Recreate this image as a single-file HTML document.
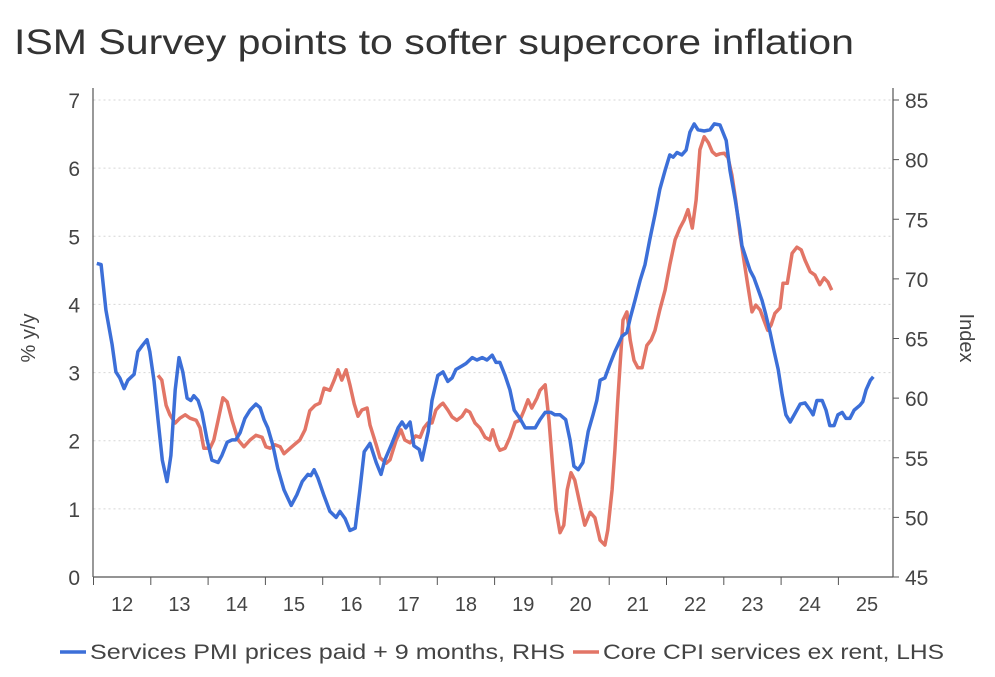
<!DOCTYPE html>
<html><head><meta charset="utf-8"><style>
body{margin:0;background:#fff;}
svg text{font-family:"Liberation Sans",sans-serif;}
</style></head><body>
<svg width="995" height="672" xmlns="http://www.w3.org/2000/svg" id="c">
<text x="14" y="54" font-size="35" fill="#333" textLength="840" lengthAdjust="spacingAndGlyphs">ISM Survey points to softer supercore inflation</text>
<text transform="translate(35,338) rotate(-90)" text-anchor="middle" font-size="20" fill="#444">% y/y</text>
<text transform="translate(960,338) rotate(90)" text-anchor="middle" font-size="20" fill="#444">Index</text>
<g id="grid"></g><g id="axes"></g><g id="series"></g>
<g>
<line x1="60" y1="652" x2="86" y2="652" stroke="#3c6fd8" stroke-width="3.5"/>
<text x="90" y="659" font-size="21" fill="#444" textLength="475" lengthAdjust="spacingAndGlyphs">Services PMI prices paid + 9 months, RHS</text>
<line x1="573" y1="652" x2="599" y2="652" stroke="#e27566" stroke-width="3.5"/>
<text x="603" y="659" font-size="21" fill="#444" textLength="341" lengthAdjust="spacingAndGlyphs">Core CPI services ex rent, LHS</text>
</g>
</svg>
<script>
const leftTicks=[0,1,2,3,4,5,6,7];
const rightTicks=[45,50,55,60,65,70,75,80,85];
const yearLabels=["12","13","14","15","16","17","18","19","20","21","22","23","24","25"];
// months since Jan 2012
const pmiMonths=[0.7,1.6,2.6,3.9,4.7,5.5,6.4,7.2,8.5,9.3,10.2,11.2,11.8,12.7,13.5,14.4,15.4,16.2,17.1,17.9,18.7,19.6,20.4,21.0,21.9,22.7,23.8,24.8,26.1,26.9,28.0,29.0,29.8,30.7,31.7,32.8,34.0,34.9,35.7,36.5,37.6,38.6,39.9,41.4,42.6,43.7,44.9,45.5,46.2,47.0,48.3,49.5,50.8,51.6,52.7,53.7,54.8,55.8,56.7,57.9,59.2,60.2,61.0,62.5,63.8,64.6,65.4,66.3,67.1,68.2,68.8,70.1,70.9,72.1,73.2,74.2,75.1,75.9,77.2,78.0,79.3,80.3,81.4,82.4,83.5,84.3,85.1,86.2,87.2,88.1,89.3,90.4,91.4,92.5,93.5,94.6,95.8,96.6,97.7,98.9,99.8,100.6,101.5,102.5,103.6,104.6,105.4,106.1,107.1,108.2,109.2,110.7,111.7,112.4,113.4,114.5,115.5,116.5,117.6,118.6,119.7,120.7,121.4,122.2,123.2,124.1,124.9,125.8,126.6,127.9,129.1,130.0,131.2,132.5,133.3,134.4,135.4,135.8,136.6,137.5,138.3,139.2,140.0,140.8,141.7,142.5,143.4,144.2,145.0,145.9,146.9,148.0,149.0,150.1,150.7,151.5,152.6,153.4,154.2,155.1,155.9,156.8,157.6,158.4,159.3,160.5,161.1,161.8,162.7,163.3];
const pmiValues=[71.3,71.2,67.4,64.5,62.2,61.7,60.8,61.5,62.0,63.9,64.4,64.9,63.9,61.4,58.2,54.8,53.0,55.2,60.7,63.4,62.2,60.0,59.8,60.2,59.8,58.8,56.5,54.8,54.6,55.2,56.3,56.5,56.5,57.1,58.3,59.0,59.5,59.2,58.2,57.5,56.0,54.1,52.3,51.0,51.9,53.0,53.6,53.5,54.0,53.3,51.8,50.5,50.0,50.5,49.9,48.9,49.1,52.3,55.5,56.2,54.6,53.6,54.8,56.2,57.5,58.0,57.5,58.0,56.0,55.7,54.8,57.2,59.8,61.9,62.2,61.4,61.7,62.4,62.7,62.9,63.4,63.2,63.4,63.2,63.6,63.0,63.0,61.9,60.7,59.0,58.3,57.5,57.5,57.5,58.2,58.8,58.8,58.6,58.6,58.2,56.5,54.3,54.0,54.6,57.2,58.6,59.8,61.5,61.7,62.9,63.9,65.2,65.5,66.7,68.2,69.9,71.2,73.3,75.4,77.5,79.1,80.4,80.2,80.6,80.4,80.8,82.3,83.0,82.5,82.4,82.5,83.0,82.9,81.6,79.1,76.6,74.1,72.8,71.8,70.7,70.1,69.1,68.2,67.0,65.5,64.0,62.4,60.3,58.6,58.0,58.7,59.5,59.6,59.0,58.6,59.8,59.8,59.0,57.7,57.7,58.6,58.8,58.3,58.3,59.0,59.4,59.7,60.7,61.5,61.8];
const cpiMonths=[13.5,14.3,15.2,16.0,17.1,18.1,19.2,20.2,21.5,22.3,23.1,24.4,25.2,26.1,27.1,28.0,29.0,30.3,31.5,32.8,34.0,35.3,36.1,37.0,38.0,39.1,39.9,41.2,42.0,43.2,44.3,45.3,46.4,47.4,48.3,49.5,50.4,51.2,52.0,52.9,53.7,54.6,55.4,56.2,57.3,57.9,59.2,60.0,61.3,62.1,63.4,64.4,65.2,66.3,67.5,68.4,69.2,70.0,70.9,71.7,72.6,73.2,74.2,75.1,76.1,77.2,78.0,78.8,79.9,80.9,82.0,83.0,83.6,84.5,85.1,86.2,87.2,88.3,89.3,90.2,91.0,91.8,92.9,93.5,94.6,95.4,96.2,96.9,97.7,98.5,99.2,100.0,100.8,101.9,102.9,104.0,105.0,106.1,107.1,107.7,108.6,109.2,109.8,110.9,111.7,112.4,113.2,114.0,114.9,115.9,116.8,117.6,118.6,119.7,120.7,121.8,122.8,123.7,124.5,125.4,126.2,127.0,127.9,128.8,129.6,130.4,131.2,132.1,132.9,133.7,134.5,135.4,136.2,137.0,137.9,138.7,139.6,140.4,141.2,141.9,142.7,143.8,144.4,145.3,146.3,147.3,148.2,149.0,150.1,151.1,152.1,153.0,153.8,154.6];
const cpiValues=[2.96,2.89,2.52,2.38,2.26,2.33,2.38,2.33,2.30,2.19,1.89,1.89,2.01,2.30,2.63,2.57,2.30,2.01,1.91,2.01,2.08,2.05,1.91,1.89,1.94,1.91,1.81,1.89,1.94,2.01,2.16,2.44,2.52,2.55,2.77,2.74,2.89,3.04,2.89,3.04,2.82,2.54,2.36,2.45,2.48,2.23,1.94,1.75,1.67,1.72,2.01,2.16,2.01,1.97,2.07,2.05,2.19,2.26,2.26,2.45,2.52,2.55,2.45,2.35,2.30,2.36,2.45,2.42,2.26,2.19,2.05,2.01,2.16,1.94,1.86,1.89,2.05,2.27,2.30,2.45,2.60,2.48,2.63,2.74,2.82,2.30,1.57,0.98,0.65,0.76,1.28,1.53,1.42,1.06,0.76,0.95,0.87,0.54,0.47,0.69,1.28,1.86,2.60,3.77,3.89,3.48,3.18,3.07,3.07,3.40,3.48,3.62,3.92,4.21,4.58,4.95,5.12,5.24,5.39,5.12,5.53,6.27,6.46,6.37,6.24,6.19,6.21,6.22,6.15,5.90,5.53,5.02,4.65,4.29,3.89,3.99,3.92,3.77,3.62,3.70,3.87,3.95,4.31,4.31,4.75,4.84,4.80,4.65,4.48,4.43,4.29,4.39,4.33,4.21];

const NS='http://www.w3.org/2000/svg';
const X0=93.5,X1=895.7,TOP=100,BOT=577;
const xM=m=>X0+(X1-X0)*m/168;
const yL=v=>BOT-(BOT-TOP)*v/7;
const yR=v=>BOT-(BOT-TOP)*(v-45)/40;
function mk(tag,attrs,parent){const e=document.createElementNS(NS,tag);for(const k in attrs)e.setAttribute(k,attrs[k]);document.getElementById(parent).appendChild(e);return e;}
leftTicks.forEach(v=>{
  if(v>0){const g=mk('line',{x1:X0,x2:893,y1:yL(v),y2:yL(v),stroke:'#d6d6d6','stroke-width':1,'stroke-dasharray':'2,3'},'grid');
  
  }
  const t=mk('text',{x:80,y:yL(v)+8,'text-anchor':'end','font-size':21,fill:'#444'},'axes');t.textContent=v;
  
  
});
rightTicks.forEach(v=>{
  mk('line',{x1:893,x2:899,y1:yR(v),y2:yR(v),stroke:'#555','stroke-width':1},'axes');
  const t=mk('text',{x:905,y:yR(v)+8,'font-size':21,fill:'#444'},'axes');t.textContent=v;
  
  
});
mk('line',{x1:93,x2:93,y1:88,y2:BOT,stroke:'#555','stroke-width':1.2},'axes');
mk('line',{x1:893,x2:893,y1:88,y2:BOT,stroke:'#555','stroke-width':1.2},'axes');
mk('line',{x1:93,x2:893,y1:BOT,y2:BOT,stroke:'#555','stroke-width':1.2},'axes');
yearLabels.forEach((l,i)=>{
  mk('line',{x1:xM(i*12),x2:xM(i*12),y1:BOT,y2:BOT+8,stroke:'#555','stroke-width':1},'axes');
  const t=mk('text',{x:xM(i*12+6),y:BOT+34,'text-anchor':'middle','font-size':20,fill:'#444'},'axes');t.textContent=l;
  
  
});
function line(ms,vs,yf,col,name){
  const d=ms.map((m,i)=>(i?'L':'M')+xM(m).toFixed(1)+','+yf(vs[i]).toFixed(1)).join('');
  const p=mk('path',{d:d,fill:'none',stroke:col,'stroke-width':3.5,'stroke-linejoin':'round'},'series');
  
  
}
line(cpiMonths,cpiValues,yL,'#e27566','core-cpi-line');
line(pmiMonths,pmiValues,yR,'#3c6fd8','services-pmi-line');
</script>
</body></html>
